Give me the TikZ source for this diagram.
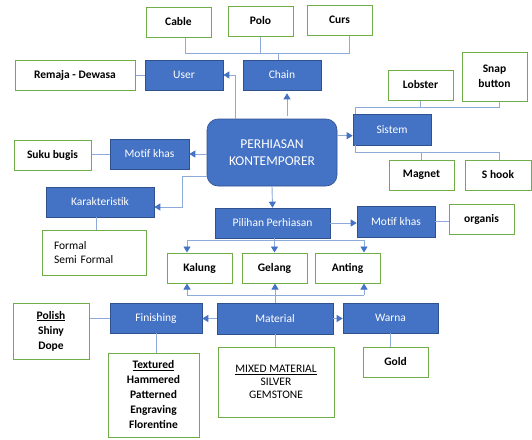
\documentclass[tikz,border=0pt]{standalone}
\usepackage{fontspec}
\setmainfont{Carlito}
\usetikzlibrary{arrows.meta}
\definecolor{boxblue}{HTML}{4472C4}
\definecolor{boxborder}{HTML}{2F528F}
\definecolor{linkblue}{HTML}{8EAADB}
\definecolor{leafgreen}{HTML}{70AD47}
\tikzset{
  bluebox/.style={rectangle, fill=boxblue, draw=boxborder, line width=0.6pt, text=white,
    inner sep=0pt, font=\fontsize{11.5}{14}\selectfont},
  leafbox/.style={rectangle, fill=white, draw=leafgreen, line width=1pt, text=black,
    inner sep=0pt, font=\fontsize{11.5}{15}\selectfont\bfseries, align=center},
  link/.style={draw=linkblue, line width=0.9pt},
  arr/.style={link, -{Triangle[width=7pt,length=6pt,color=boxblue]}},
}
\begin{document}
\begin{tikzpicture}[x=1pt,y=-1pt]
\useasboundingbox (0,0) rectangle (532,439);
\fill[white] (0,0) rectangle (532,439);

% top leaves
\node[leafbox, minimum width=65pt, minimum height=30pt] (cable) at (178.5,22) {Cable};
\node[leafbox, minimum width=65pt, minimum height=30pt] (polo) at (260.5,21) {Polo};
\node[leafbox, minimum width=65pt, minimum height=30pt] (curs) at (339.5,20) {Curs};
\node[leafbox, minimum width=120pt, minimum height=30pt] (remaja) at (75,75) {Remaja - Dewasa};

% blue boxes
\node[bluebox, minimum width=78pt, minimum height=30pt] (user) at (184,75) {User};
\node[bluebox, minimum width=78pt, minimum height=30pt] (chain) at (282,75) {Chain};
\node[bluebox, minimum width=130pt, minimum height=67pt, rounded corners=11pt, align=center,
  font=\fontsize{13.5}{16.5}\selectfont] (center) at (272,152.5) {PERHIASAN\\KONTEMPORER};
\node[bluebox, minimum width=78pt, minimum height=31pt] (sistem) at (392,129.5) {Sistem};
\node[bluebox, minimum width=79pt, minimum height=30pt] (motifL) at (149.5,154) {Motif khas};
\node[bluebox, minimum width=108pt, minimum height=30pt] (karak) at (100,202) {Karakteristik};
\node[bluebox, minimum width=115pt, minimum height=30pt] (pilihan) at (272.5,223) {Pilihan Perhiasan};
\node[bluebox, minimum width=78pt, minimum height=31pt] (motifR) at (396,221.5) {Motif khas};
\node[bluebox, minimum width=116pt, minimum height=31pt] (material) at (275,318.5) {Material};
\node[bluebox, minimum width=92pt, minimum height=30pt] (finishing) at (156,318) {Finishing};
\node[bluebox, minimum width=95pt, minimum height=30pt] (warna) at (390.5,318) {Warna};

% other leaves
\node[leafbox, minimum width=65pt, minimum height=30pt] (lobster) at (420.5,85) {Lobster};
\node[leafbox, minimum width=65pt, minimum height=49pt] (snap) at (494.5,76.5) {Snap\\button};
\node[leafbox, minimum width=65pt, minimum height=30pt] (magnet) at (421.5,175) {Magnet};
\node[leafbox, minimum width=66pt, minimum height=30pt] (shook) at (498,175) {S hook};
\node[leafbox, minimum width=77pt, minimum height=30pt] (suku) at (52.5,155.5) {Suku bugis};
\node[leafbox, minimum width=104pt, minimum height=45pt, text width=80pt, align=left,
  font=\fontsize{11.5}{13.5}\selectfont] (formal) at (94,252.5) {Formal\\Semi Formal};
\node[leafbox, minimum width=65pt, minimum height=30pt] (organis) at (481.5,219) {organis};
\node[leafbox, minimum width=65pt, minimum height=30pt] (kalung) at (199.5,268) {Kalung};
\node[leafbox, minimum width=65pt, minimum height=30pt] (gelang) at (274.5,268) {Gelang};
\node[leafbox, minimum width=65pt, minimum height=30pt] (anting) at (347.5,268) {Anting};
\node[leafbox, minimum width=76pt, minimum height=56pt] (polish) at (51,331) {\underline{Polish}\\Shiny\\Dope};
\node[leafbox, minimum width=91pt, minimum height=84pt] (textured) at (153.5,395)
  {\underline{Textured}\\Hammered\\Patterned\\Engraving\\Florentine};
\node[leafbox, minimum width=116pt, minimum height=70pt, font=\fontsize{11.5}{13}\selectfont] (mixed) at (276,382)
  {\underline{MIXED MATERIAL}\\SILVER\\GEMSTONE};
\node[leafbox, minimum width=65pt, minimum height=30pt] (gold) at (395.5,362) {Gold};

% chain bundle
\coordinate (tj) at (282,53);
\draw[link] ([xshift=6.5pt]cable.south) -- ([xshift=6.5pt]cable.south |- tj)
  -- ([xshift=9.5pt]curs.south |- tj) -- ([xshift=9.5pt]curs.south);
\draw[link] (polo.south) -- (polo.south |- tj);
\draw[link] ([xshift=-4pt]chain.north) -- ([xshift=-4pt]chain.north |- tj);

% user
\draw[link] (remaja.east) -- (user.west);
\draw[arr] ([xshift=29pt]center.north west) |- (user.east);
\draw[arr, shorten <=3pt, shorten >=3pt] ([xshift=5pt]chain.south |- center.north) -- ([xshift=5pt]chain.south);

% sistem
\draw[arr] ([yshift=-17pt]center.north east) -- ([yshift=-17pt]center.north east -| sistem.west);
\draw[link] ([xshift=-37pt]sistem.north) -- ++(0,-6) coordinate (sj) -| ([xshift=4.5pt]snap.south);
\draw[link] (lobster.south) -- (lobster.south |- sj);
\draw[link] ([xshift=-37pt]sistem.south) -- ++(0,7) coordinate (sb) -| ([xshift=1pt]shook.north);
\draw[link] (magnet.north) -- (magnet.north |- sb);

% motif khas left
\draw[arr] (center.west |- motifL.east) -- (motifL.east);
\draw[link] (motifL.west) -- (motifL.west -| suku.east);

% karakteristik
\draw[arr] ([yshift=10pt]center.south west) -- ++(-24,0) |- ([yshift=-5pt]karak.east);
\draw[link] ([xshift=-4pt]karak.south) -- ([xshift=-4pt]karak.south |- formal.north);

% pilihan
\draw[arr] (center.south) -- (pilihan.north);
\draw[arr] (pilihan.east) -- (pilihan.east -| motifR.west);
\draw[link] (motifR.east) -- (motifR.east -| organis.west);
\coordinate (hk) at (187,240);
\coordinate (ha) at (364,240);
\draw[link] (hk) -- (ha);
\draw[arr] (hk) -- (hk |- kalung.north);
\draw[arr] (pilihan.south -| gelang.north) -- (gelang.north);
\draw[arr] (ha) -- (ha |- anting.north);

% material
\coordinate (bk) at (187,295);
\coordinate (ba) at (364,295);
\draw[link] (bk) -- (ba);
\draw[arr] (bk) -- (bk |- kalung.south);
\draw[arr] (ba) -- (ba |- anting.south);
\draw[arr] (material.north) -- (material.north |- gelang.south);
\draw[arr] (material.west) -- (material.west -| finishing.east);
\draw[arr] (material.east) -- (material.east -| warna.west);
\draw[link] (finishing.west) -- (finishing.west -| polish.east);
\draw[link] (finishing.south) -- (finishing.south |- textured.north);
\draw[link] (material.south) -- (material.south |- mixed.north);
\draw[link] (warna.south) -- (warna.south |- gold.north);
\end{tikzpicture}
\end{document}
